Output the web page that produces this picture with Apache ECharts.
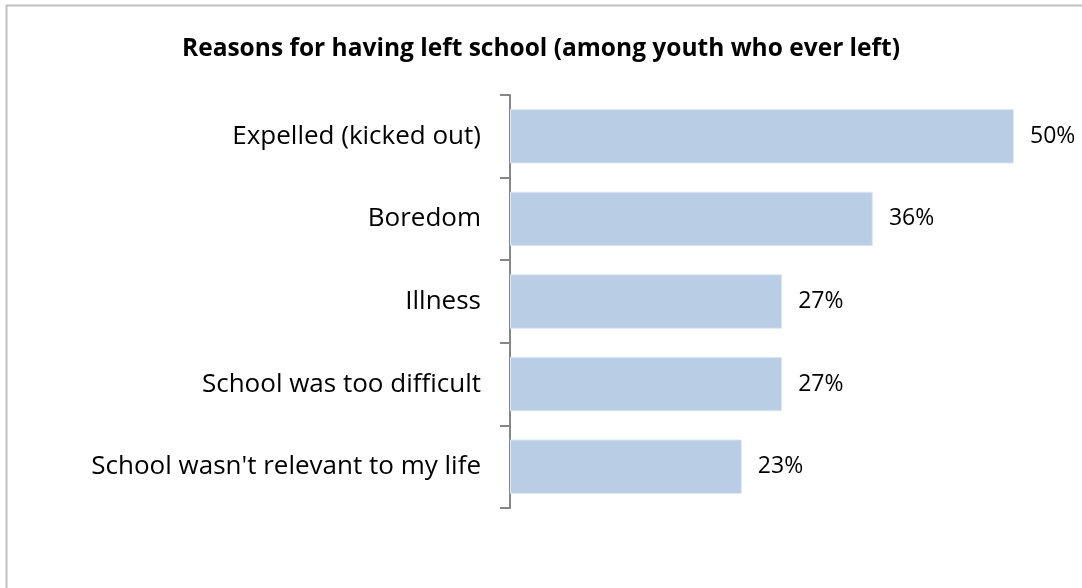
<!DOCTYPE html>
<html>
<head>
<meta charset="utf-8">
<style>
  html, body { margin: 0; padding: 0; background: #fff; }
  #chart { width: 1082px; height: 588px; }
</style>
<script src="https://cdn.jsdelivr.net/npm/echarts@6/dist/echarts.min.js"></script>
</head>
<body>
<div id="chart"></div>
<script>
// Reasons for leaving school, percent of youth who ever left
const categories = [
  "Expelled (kicked out)",
  "Boredom",
  "Illness",
  "School was too difficult",
  "School wasn't relevant to my life"
];
const values = [50, 36, 27, 27, 23];

const FONT = "'Open Sans', 'Liberation Sans', sans-serif";

const chart = echarts.init(document.getElementById('chart'));
chart.setOption({
  backgroundColor: '#ffffff',
  animation: false,
  title: {
    text: 'Reasons for having left school (among youth who ever left)',
    left: 'center',
    top: 32,
    textStyle: { fontFamily: FONT, fontSize: 24.5, fontWeight: 'bold', color: '#000' }
  },
  graphic: [{
    type: 'rect',
    shape: { x: 6.5, y: 5.5, width: 1090, height: 600 },
    style: { fill: 'none', stroke: '#bfbfbf', lineWidth: 2 },
    silent: true
  }],
  grid: { left: 510, right: 68, top: 95, bottom: 80, containLabel: false },
  xAxis: {
    type: 'value',
    min: 0,
    max: 50,
    show: false
  },
  yAxis: {
    type: 'category',
    data: categories,
    inverse: true,
    axisLine: { show: true, lineStyle: { color: '#868686', width: 2 } },
    axisTick: { show: true, length: 10, lineStyle: { color: '#868686', width: 2 } },
    axisLabel: { margin: 29, fontFamily: FONT, fontSize: 26, color: '#000' },
    splitLine: { show: false }
  },
  series: [{
    type: 'bar',
    data: values,
    barCategoryGap: '34%',
    itemStyle: { color: '#b9cde5', borderColor: '#dfe8f3', borderWidth: 1 },
    label: {
      show: true,
      position: 'right',
      distance: 16,
      formatter: p => p.value + '%',
      fontFamily: FONT,
      fontSize: 23,
      color: '#000'
    }
  }]
});
</script>
</body>
</html>
